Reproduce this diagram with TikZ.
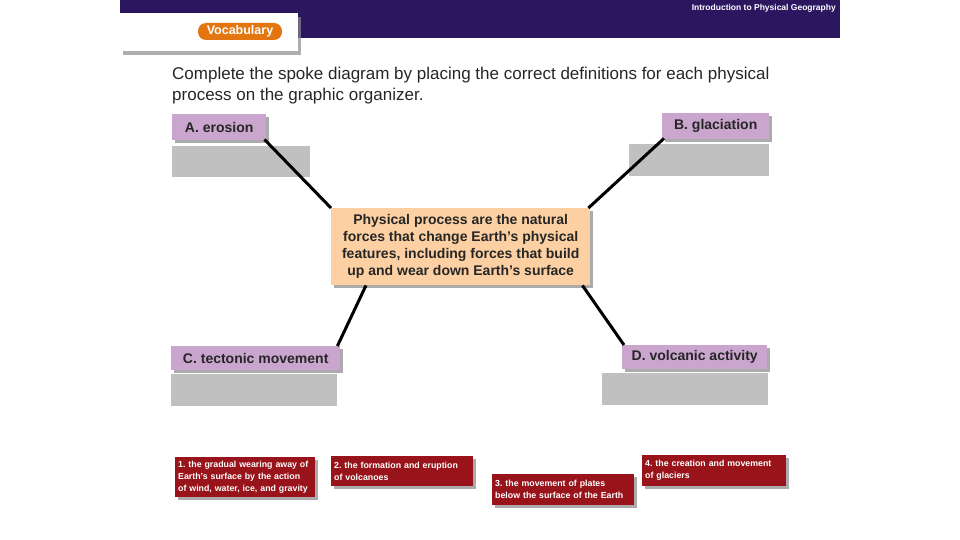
\documentclass[tikz,border=0pt]{standalone}
\usepackage{fontspec}
\setmainfont{Liberation Sans}
\usetikzlibrary{calc,shadows}
\definecolor{hdr}{RGB}{44,22,96}
\definecolor{pillc}{RGB}{228,118,18}
\definecolor{lblc}{RGB}{202,166,206}
\definecolor{grayc}{RGB}{192,192,192}
\definecolor{peach}{RGB}{252,208,162}
\definecolor{redc}{RGB}{152,20,26}
\frenchspacing
\begin{document}
\begin{tikzpicture}[x=1pt,y=-1pt,
  shd/.style={drop shadow={shadow xshift=3pt,shadow yshift=-3pt,fill=black!55,opacity=0.6}},
  lbl/.style={fill=lblc,shd,inner sep=0,minimum height=26,anchor=north west,
    font=\fontsize{14}{16}\selectfont\bfseries,text=black!85},
  blank/.style={fill=grayc,inner sep=0,anchor=north west},
  ctrbox/.style={fill=peach,shd,inner sep=0,minimum width=259,minimum height=77,anchor=north west,
    align=center,font=\fontsize{14}{17}\selectfont\bfseries,text=black!85},
  defbox/.style={fill=redc,shd,inner xsep=3,inner ysep=0,anchor=north west,align=left,
    font=\fontsize{8.8}{12}\selectfont\bfseries,text=white},
  spoke/.style={line width=3pt,black}]
\useasboundingbox (0,0) rectangle (960,540);
% header
\fill[hdr] (120,0) rectangle (840,38);
\node[anchor=east,inner sep=0,text=white,font=\fontsize{8.5}{10}\selectfont\bfseries] (title) at (836,8) {Introduction to Physical Geography};
\node[fill=white,drop shadow={shadow xshift=3pt,shadow yshift=-4pt,fill=black!45,opacity=0.7},inner sep=0,minimum width=178,minimum height=38,anchor=north west] (tab) at (120,13) {};
\node[fill=pillc,rounded corners=8pt,inner sep=0,minimum width=84,minimum height=17,text=white,font=\fontsize{12.5}{14}\selectfont\bfseries] (vocab) at (240,31.5) {Vocabulary};
% instructions
\node[anchor=base west,inner sep=0,align=left,font=\fontsize{17}{21}\selectfont,text=black!85] (instr) at (172,101) {Complete the spoke diagram by placing the correct definitions for each physical\\process on the graphic organizer.};
% labels
\node[lbl,minimum width=94] (A) at (172,114) {A. erosion};
\node[lbl,minimum width=107] (B) at (662,113) {B. glaciation};
\node[lbl,minimum width=169,minimum height=24] (C) at (171,346) {C. tectonic movement};
\node[lbl,minimum width=145,minimum height=24] (D) at (622,345) {D. volcanic activity};
% blanks
\node[blank,minimum width=138,minimum height=31] (Ab) at (172,146) {};
\node[blank,minimum width=140,minimum height=32] (Bb) at (629,144) {};
\node[blank,minimum width=166,minimum height=32] (Cb) at (171,374) {};
\node[blank,minimum width=166,minimum height=32] (Db) at (602,373) {};
% centre
\node[ctrbox] (ctr) at (331,208) {Physical process are the natural\\forces that change Earth's physical\\features, including forces that build\\up and wear down Earth's surface};
% spokes
\draw[spoke] ([xshift=-2pt,yshift=1pt]A.south east) -- (ctr.north west);
\draw[spoke] ([xshift=2pt,yshift=1pt]B.south west) -- ([xshift=-2pt]ctr.north east);
\draw[spoke] ([xshift=35pt]ctr.south west) -- ([xshift=-3pt]C.north east);
\draw[spoke] ([xshift=-8pt]ctr.south east) -- ([xshift=2pt]D.north west);
% definitions
\node[defbox,text width=134,minimum height=40] (d1) at (175,457) {1. the gradual wearing away of\\Earth's surface by the action\\of wind, water, ice, and gravity};
\node[defbox,text width=136,minimum height=30] (d2) at (331,456) {2. the formation and eruption\\of volcanoes};
\node[defbox,text width=136,minimum height=31] (d3) at (492,474) {3. the movement of plates\\below the surface of the Earth};
\node[defbox,text width=138,minimum height=31] (d4) at (642,455) {4. the creation and movement\\of glaciers};
\end{tikzpicture}
\end{document}
